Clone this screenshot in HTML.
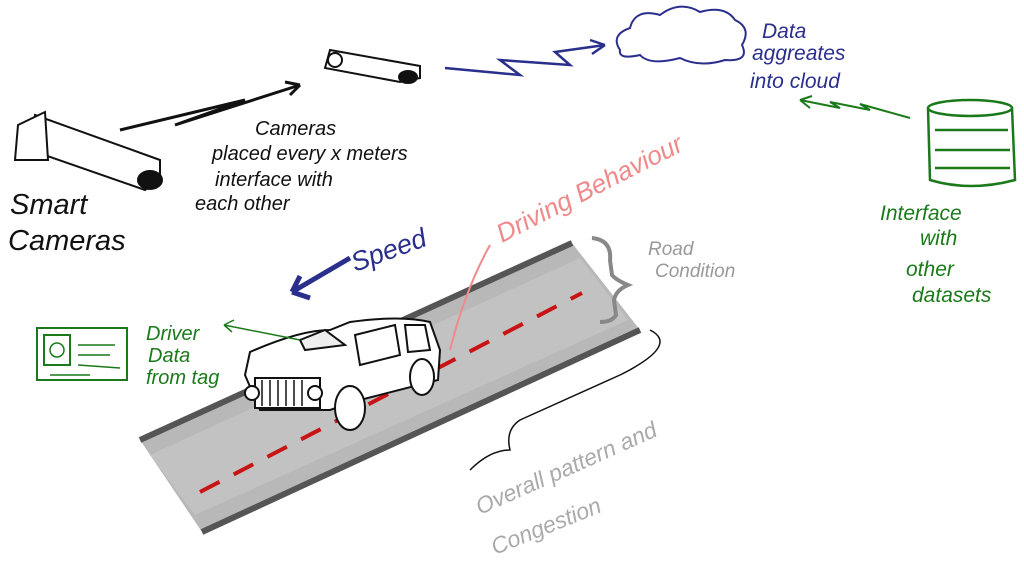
<!DOCTYPE html>
<html><head><meta charset="utf-8"><style>
html,body{margin:0;padding:0;background:#fff;}
svg{display:block}
text{font-family:"Liberation Sans",sans-serif;font-style:italic}
</style></head><body>
<svg width="1024" height="571" viewBox="0 0 1024 571" xmlns="http://www.w3.org/2000/svg">
<rect width="1024" height="571" fill="#fff"/>
<!-- road -->
<polygon points="140,440 572,243 640,330 202,532" fill="#b8b8b8"/>
<polygon points="150,455 580,258 628,320 195,515" fill="#c2c2c2"/>
<path d="M140,440 L572,243" stroke="#555" stroke-width="6" fill="none"/>
<path d="M202,532 L640,330" stroke="#555" stroke-width="6" fill="none"/>
<path d="M200,492 L582,293" stroke="#c81414" stroke-width="4" stroke-dasharray="22,16" fill="none"/>
<!-- road condition bracket -->
<path d="M592,238 Q612,240 610,260 L612,275 Q616,280 628,285 Q616,290 614,300 L616,315 Q612,322 600,322" stroke="#888" stroke-width="4" fill="none"/>
<text x="648" y="255" font-size="19" fill="#999">Road</text>
<text x="655" y="277" font-size="19" fill="#999">Condition</text>
<!-- overall bracket -->
<path d="M650,330 Q680,345 620,375 L520,420 Q505,430 510,450 Q490,450 470,470" stroke="#111" stroke-width="1.5" fill="none"/>
<text x="480" y="515" font-size="23" fill="#aaa" transform="rotate(-24 480 515)">Overall pattern and</text>
<text x="495" y="555" font-size="23" fill="#aaa" transform="rotate(-22 495 555)">Congestion</text>
<!-- car -->
<g stroke="#111" stroke-width="2" fill="#fff">
<path d="M245,375 L250,352 Q300,330 330,330 L350,322 Q400,315 430,322 L440,350 L438,380 L360,400 L330,410 L260,410 Z"/>
<path d="M300,340 L325,330 L345,345 L305,350 Z" fill="#eee"/>
<path d="M355,335 L395,325 L400,355 L360,365 Z"/>
<path d="M405,325 L425,325 L430,350 L408,352 Z"/>
<rect x="255" y="378" width="65" height="30"/>
<ellipse cx="350" cy="408" rx="15" ry="22"/>
<ellipse cx="422" cy="377" rx="12" ry="18"/>
<circle cx="252" cy="393" r="7"/><circle cx="315" cy="393" r="7"/>
</g>
<path d="M262,380 L262,406 M270,380 L270,406 M278,380 L278,406 M286,380 L286,406 M294,380 L294,406 M302,380 L302,406" stroke="#111" stroke-width="1.5"/>
<!-- speed -->
<path d="M350,258 L292,292 M292,292 L300,276 M292,292 L310,298" stroke="#2a2f8c" stroke-width="5" fill="none"/>
<text x="355" y="272" font-size="27" fill="#2a2f8c" transform="rotate(-20 355 272)">Speed</text>
<!-- driving behaviour -->
<text x="502" y="243" font-size="26" fill="#f08a8a" transform="rotate(-27 502 243)">Driving Behaviour</text>
<path d="M490,245 Q465,290 450,350" stroke="#f08a8a" stroke-width="2" fill="none"/>
<!-- driver card -->
<rect x="37" y="328" width="90" height="52" fill="none" stroke="#1a7a1a" stroke-width="2"/>
<rect x="44" y="335" width="26" height="30" fill="none" stroke="#1a7a1a" stroke-width="2"/>
<circle cx="57" cy="350" r="7" fill="none" stroke="#1a7a1a" stroke-width="1.5"/>
<path d="M78,345 L115,345 M78,355 L110,355 M78,365 L120,368 M50,375 L90,375" stroke="#1a7a1a" stroke-width="1.5"/>
<text x="146" y="340" font-size="20" fill="#1a7a1a">Driver</text>
<text x="148" y="362" font-size="20" fill="#1a7a1a">Data</text>
<text x="146" y="384" font-size="20" fill="#1a7a1a">from tag</text>
<path d="M224,325 L300,340 M224,325 L234,320 M224,325 L232,332" stroke="#1a7a1a" stroke-width="1.5" fill="none"/>
<!-- cameras -->
<g stroke="#111" stroke-width="2" fill="#fff">
<path d="M35,115 L160,160 L160,180 L145,190 L30,150 Z"/>
<ellipse cx="150" cy="180" rx="12" ry="9" fill="#111"/>
<path d="M18,125 L45,112 L48,160 L15,160 Z"/>
<path d="M330,50 L420,66 L420,78 L400,82 L325,68 Z"/>
<ellipse cx="408" cy="77" rx="9" ry="6" fill="#111"/>
<circle cx="335" cy="60" r="7"/>
</g>
<path d="M120,130 L245,100 L175,125 L300,85 M300,85 L285,82 M300,85 L290,95" stroke="#111" stroke-width="3" fill="none"/>
<text x="10" y="214" font-size="29" fill="#111">Smart</text>
<text x="8" y="250" font-size="29" fill="#111">Cameras</text>
<text x="255" y="135" font-size="20" fill="#111">Cameras</text>
<text x="212" y="160" font-size="20" fill="#111">placed every x meters</text>
<text x="215" y="186" font-size="20" fill="#111">interface with</text>
<text x="195" y="210" font-size="20" fill="#111">each other</text>
<!-- to cloud -->
<path d="M445,68 L520,75 L500,60 L570,65 L555,52 L605,45 M605,45 L590,40 M605,45 L592,54" stroke="#2a2f8c" stroke-width="2.5" fill="none"/>
<path d="M620,50 Q610,35 630,28 Q635,8 660,15 Q680,0 700,12 Q725,5 735,20 Q752,28 742,45 Q750,62 725,60 Q700,68 680,58 Q650,66 640,55 Q618,60 620,50 Z" stroke="#2a2f8c" stroke-width="2" fill="none"/>
<text x="762" y="38" font-size="21" fill="#2a2f8c">Data</text>
<text x="752" y="60" font-size="21" fill="#2a2f8c">aggreates</text>
<text x="750" y="88" font-size="21" fill="#2a2f8c">into cloud</text>
<path d="M800,100 L840,108 L830,102 L870,110 L860,104 L910,118 M800,100 L812,96 M800,100 L810,108" stroke="#1a7a1a" stroke-width="2" fill="none"/>
<!-- database -->
<g stroke="#1a7a1a" stroke-width="2.5" fill="none">
<ellipse cx="970" cy="108" rx="42" ry="8"/>
<path d="M928,108 L930,180 Q970,192 1015,180 L1012,108"/>
<path d="M935,130 L1008,130 M935,150 L1010,150 M935,168 L1010,168"/>
</g>
<text x="880" y="220" font-size="21" fill="#1a7a1a">Interface</text>
<text x="920" y="245" font-size="21" fill="#1a7a1a">with</text>
<text x="906" y="276" font-size="21" fill="#1a7a1a">other</text>
<text x="912" y="302" font-size="21" fill="#1a7a1a">datasets</text>
</svg>
</body></html>
